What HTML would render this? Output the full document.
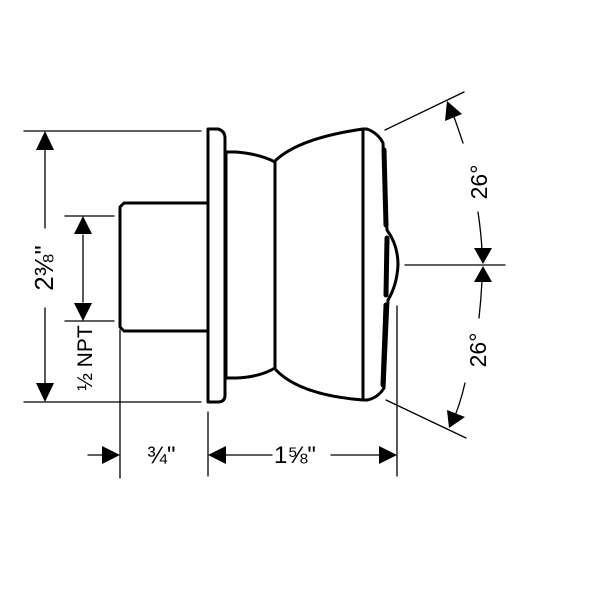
<!DOCTYPE html>
<html><head><meta charset="utf-8"><style>html,body{margin:0;padding:0;background:#fff}svg{display:block}</style></head>
<body>
<svg width="600" height="600" viewBox="0 0 600 600" xmlns="http://www.w3.org/2000/svg" font-family="Liberation Sans, sans-serif">
<g fill="none" stroke="#000" stroke-linecap="round" stroke-linejoin="round">
<g stroke-width="1.3">
<line x1="24" y1="131" x2="201" y2="131"/>
<line x1="24" y1="402" x2="201" y2="402"/>
<line x1="65" y1="216" x2="114" y2="216"/>
<line x1="65" y1="321" x2="114" y2="321"/>
<line x1="120" y1="330" x2="120" y2="478"/>
<line x1="208" y1="412" x2="208" y2="476"/>
<line x1="397" y1="306" x2="397" y2="476"/>
<line x1="385" y1="130" x2="464" y2="92"/>
<line x1="386" y1="400" x2="466" y2="438"/>
<line x1="405" y1="265" x2="505" y2="265"/>
<line x1="45" y1="150" x2="45" y2="228"/>
<line x1="45" y1="308" x2="45" y2="385"/>
<line x1="83" y1="235" x2="83" y2="302"/>
<line x1="88" y1="455" x2="104" y2="455"/>
<line x1="225" y1="455" x2="272" y2="455"/>
<line x1="331" y1="455" x2="380" y2="455"/>
<path d="M463 143 Q456 122 450 106"/>
<path d="M478 212 Q481 232 482 250"/>
<path d="M482 281 Q481 300 479 318"/>
<path d="M465 383 Q460 405 452 423"/>
</g>
<g stroke-width="3">
<path d="M208 129 L218 129 Q225 131 225 138 L225 395 Q225 402 218 402 L208 402 Z"/>
<path d="M208 203 L124 203 L120 207 L120 327 L124 331 L208 331"/>
<path d="M226 152 L236 152 Q260 154 275 162 L275 368 Q260 377 236 378 L226 378 Z"/>
<path d="M276 160 Q300 138 363 129 L363 400 Q300 395 276 370"/>
<path d="M363 129 L367 129 Q378 133 383 143 L387 230 Q398 245 398 265 Q397 285 388 300 L384 388 Q378 398 367 400 L363 400"/>
</g>
<path d="M384 150 L386 225 M387 238 L386 295 M386 305 L383 385" stroke-width="5"/>
</g>
<g fill="#000">
<polygon points="45,131 36,150 54,150"/>
<polygon points="45,402 36,383 54,383"/>
<polygon points="83,216 74,234 92,234"/>
<polygon points="83,321 74,303 92,303"/>
<polygon points="120,455 102,446 102,464"/>
<polygon points="208,455 226,446 226,464"/>
<polygon points="397,455 379,446 379,464"/>
<polygon points="447,101 445,121 462,114"/>
<polygon points="483,264 474,248 492,248"/>
<polygon points="483,266 474,282 492,282"/>
<polygon points="449,428 447,410 465,417"/>
</g>
<g font-size="21" fill="#000">
<text transform="translate(53,268) rotate(-90)" text-anchor="middle" font-size="26">2⅜"</text>
<text transform="translate(92,358) rotate(-90)" text-anchor="middle">½ NPT</text>
<text x="147" y="463" font-size="24">¾"</text>
<text x="274" y="463" font-size="24">1⅝"</text>
<text transform="translate(487,182) rotate(-90)" text-anchor="middle" font-size="23">26°</text>
<text transform="translate(486,350) rotate(-90)" text-anchor="middle" font-size="23">26°</text>
</g>
</svg>
</body></html>
